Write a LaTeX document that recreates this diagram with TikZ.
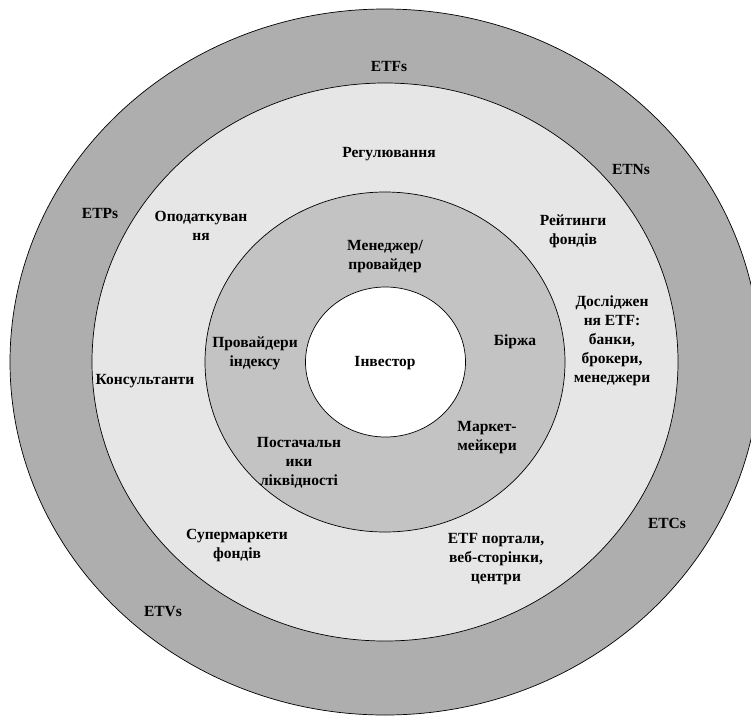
\documentclass[tikz,border=0pt]{standalone}
\usepackage{fontspec}
\setmainfont{Liberation Serif}
\definecolor{ringdark}{HTML}{AEAEAE}
\definecolor{ringlight}{HTML}{E6E6E6}
\definecolor{ringmid}{HTML}{C3C3C3}
\tikzset{
  ring/.style={draw=black, line width=0.7pt},
  lbl/.style={align=center, font=\fontsize{15.5}{19}\selectfont\bfseries, inner sep=0pt}
}
\begin{document}
\begin{tikzpicture}[x=1pt,y=-1pt]
\useasboundingbox (0,0) rectangle (751,715);
\fill[white] (0,0) rectangle (751,715);
\clip (0,0) rectangle (751,715);
\draw[ring, fill=ringdark] (385,362) ellipse [x radius=375, y radius=353];
\draw[ring, fill=ringlight] (385,362) ellipse [x radius=293, y radius=279];
\draw[ring, fill=ringmid] (385,362) ellipse [x radius=180, y radius=170];
\draw[ring, fill=white] (385.5,362) ellipse [x radius=80, y radius=75];

\node[lbl] (etfs) at (389,66) {ETFs};
\node[lbl] (etns) at (631,169) {ETNs};
\node[lbl] (etps) at (100,213) {ETPs};
\node[lbl] (etcs) at (667,523) {ETCs};
\node[lbl] (etvs) at (163,612) {ETVs};

\node[lbl] (reg) at (389,154) {Регулювання};
\node[lbl] (tax) at (201,226) {Оподаткуван\\ня};
\node[lbl] (rate) at (573,231) {Рейтинги\\фондів};
\node[lbl] (res) at (612,341) {Досліджен\\ня ETF:\\банки,\\брокери,\\менеджери};
\node[lbl] (cons) at (145,381) {Консультанти};
\node[lbl] (super) at (237,546) {Супермаркети\\фондів};
\node[lbl] (portal) at (496,559) {ETF портали,\\веб-сторінки,\\центри};

\node[lbl] (man) at (385,257) {Менеджер/\\провайдер};
\node[lbl] (idx) at (255,353) {Провайдери\\індексу};
\node[lbl] (exch) at (515,342) {Біржа};
\node[lbl] (mm) at (487,438) {Маркет-\\мейкери};
\node[lbl] (liq) at (299,463) {Постачальн\\ики\\ліквідності};
\node[lbl] (inv) at (385,363) {Інвестор};
\end{tikzpicture}
\end{document}
